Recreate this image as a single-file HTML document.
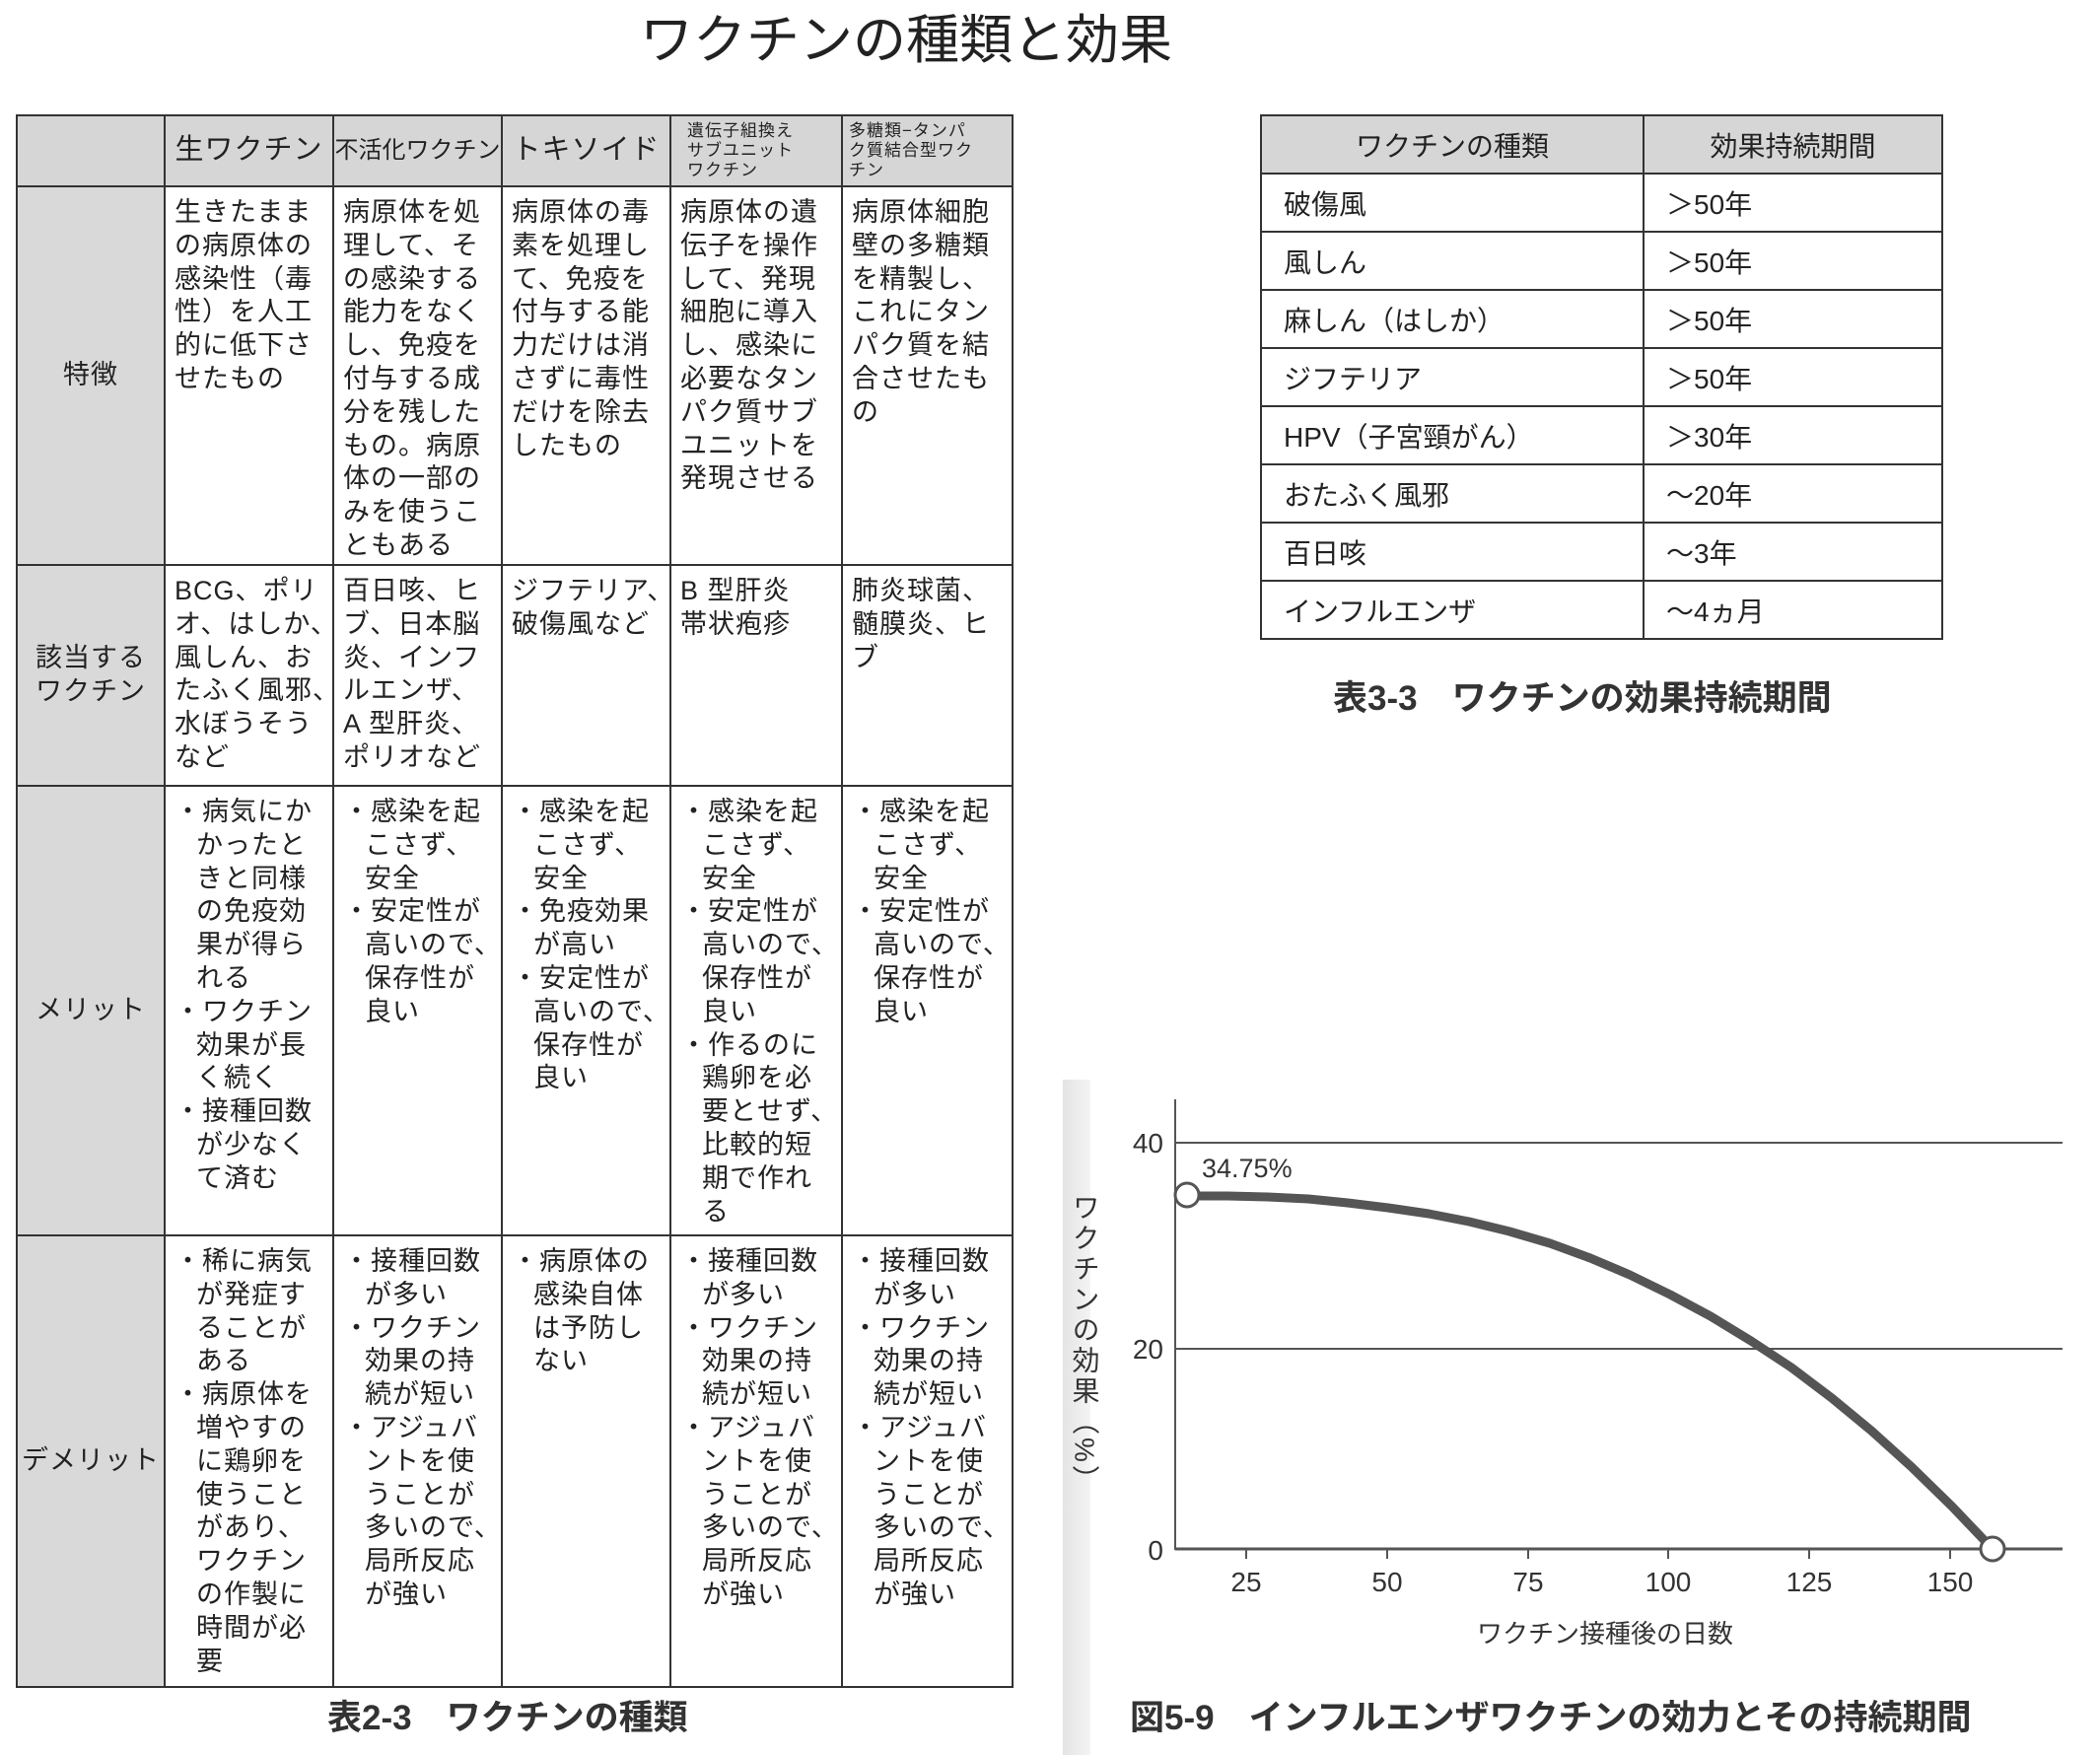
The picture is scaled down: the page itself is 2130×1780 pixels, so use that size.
<!DOCTYPE html>
<html><head><meta charset="utf-8">
<style>
body{margin:0;width:2130px;height:1780px;background:#fff;position:relative;overflow:hidden;font-family:"Liberation Sans","Noto Sans CJK JP",sans-serif;color:#222}
.t{position:absolute;white-space:nowrap}
table{border-collapse:collapse;position:absolute}
td{box-sizing:border-box}
#t1{left:16px;top:116px;table-layout:fixed;width:1010px}
#t1 td{border:2px solid #333;vertical-align:top;padding:9px 0 0 9px;font-size:27px;line-height:33.8px;letter-spacing:1px;white-space:nowrap;overflow:hidden}
#t1 td.h{background:#d6d6d6;vertical-align:middle;text-align:center;padding:0}
#t1 td.r{background:#d9d9d9;vertical-align:middle;text-align:center;padding:0 2px}
.i{padding-left:22px}
#t2{left:1278px;top:116px;table-layout:fixed;width:691px}
#t2 td{border:2px solid #333;height:59px;font-size:28px;padding:0 0 0 22px;white-space:nowrap}
#t2 tr.hd td{background:#d6d6d6;text-align:center;padding:0}
</style></head><body>
<div class="t" style="left:0;width:1838px;text-align:center;top:-4px;font-size:54px">ワクチンの種類と効果</div>

<table id="t1">
<colgroup><col style="width:150px"><col style="width:171px"><col style="width:171px"><col style="width:171px"><col style="width:174px"><col style="width:173px"></colgroup>
<tr style="height:72px"><td class="h"></td><td class="h" style="font-size:29px">生ワクチン</td><td class="h" style="font-size:24px;letter-spacing:0">不活化ワクチン</td><td class="h" style="font-size:29px">トキソイド</td>
<td class="h" style="font-size:17px;line-height:20px;text-align:left;padding-left:16px">遺伝子組換え<br>サブユニット<br>ワクチン</td>
<td class="h" style="font-size:17px;line-height:20px;text-align:left;padding-left:6px">多糖類−タンパ<br>ク質結合型ワク<br>チン</td></tr>
<tr style="height:384px"><td class="r">特徴</td>
<td>生きたまま<br>の病原体の<br>感染性（毒<br>性）を人工<br>的に低下さ<br>せたもの</td>
<td>病原体を処<br>理して、そ<br>の感染する<br>能力をなく<br>し、免疫を<br>付与する成<br>分を残した<br>もの。病原<br>体の一部の<br>みを使うこ<br>ともある</td>
<td>病原体の毒<br>素を処理し<br>て、免疫を<br>付与する能<br>力だけは消<br>さずに毒性<br>だけを除去<br>したもの</td>
<td>病原体の遺<br>伝子を操作<br>して、発現<br>細胞に導入<br>し、感染に<br>必要なタン<br>パク質サブ<br>ユニットを<br>発現させる</td>
<td>病原体細胞<br>壁の多糖類<br>を精製し、<br>これにタン<br>パク質を結<br>合させたも<br>の</td></tr>
<tr style="height:224px"><td class="r">該当する<br>ワクチン</td>
<td>BCG、ポリ<br>オ、はしか、<br>風しん、お<br>たふく風邪、<br>水ぼうそう<br>など</td>
<td>百日咳、ヒ<br>ブ、日本脳<br>炎、インフ<br>ルエンザ、<br>A 型肝炎、<br>ポリオなど</td>
<td>ジフテリア、<br>破傷風など</td>
<td>B 型肝炎<br>帯状疱疹</td>
<td>肺炎球菌、<br>髄膜炎、ヒ<br>ブ</td></tr>
<tr style="height:456px"><td class="r">メリット</td>
<td><div>・病気にか</div><div class="i">かったと</div><div class="i">きと同様</div><div class="i">の免疫効</div><div class="i">果が得ら</div><div class="i">れる</div><div>・ワクチン</div><div class="i">効果が長</div><div class="i">く続く</div><div>・接種回数</div><div class="i">が少なく</div><div class="i">て済む</div></td>
<td><div>・感染を起</div><div class="i">こさず、</div><div class="i">安全</div><div>・安定性が</div><div class="i">高いので、</div><div class="i">保存性が</div><div class="i">良い</div></td>
<td><div>・感染を起</div><div class="i">こさず、</div><div class="i">安全</div><div>・免疫効果</div><div class="i">が高い</div><div>・安定性が</div><div class="i">高いので、</div><div class="i">保存性が</div><div class="i">良い</div></td>
<td><div>・感染を起</div><div class="i">こさず、</div><div class="i">安全</div><div>・安定性が</div><div class="i">高いので、</div><div class="i">保存性が</div><div class="i">良い</div><div>・作るのに</div><div class="i">鶏卵を必</div><div class="i">要とせず、</div><div class="i">比較的短</div><div class="i">期で作れ</div><div class="i">る</div></td>
<td><div>・感染を起</div><div class="i">こさず、</div><div class="i">安全</div><div>・安定性が</div><div class="i">高いので、</div><div class="i">保存性が</div><div class="i">良い</div></td></tr>
<tr style="height:458px"><td class="r">デメリット</td>
<td><div>・稀に病気</div><div class="i">が発症す</div><div class="i">ることが</div><div class="i">ある</div><div>・病原体を</div><div class="i">増やすの</div><div class="i">に鶏卵を</div><div class="i">使うこと</div><div class="i">があり、</div><div class="i">ワクチン</div><div class="i">の作製に</div><div class="i">時間が必</div><div class="i">要</div></td>
<td><div>・接種回数</div><div class="i">が多い</div><div>・ワクチン</div><div class="i">効果の持</div><div class="i">続が短い</div><div>・アジュバ</div><div class="i">ントを使</div><div class="i">うことが</div><div class="i">多いので、</div><div class="i">局所反応</div><div class="i">が強い</div></td>
<td><div>・病原体の</div><div class="i">感染自体</div><div class="i">は予防し</div><div class="i">ない</div></td>
<td><div>・接種回数</div><div class="i">が多い</div><div>・ワクチン</div><div class="i">効果の持</div><div class="i">続が短い</div><div>・アジュバ</div><div class="i">ントを使</div><div class="i">うことが</div><div class="i">多いので、</div><div class="i">局所反応</div><div class="i">が強い</div></td>
<td><div>・接種回数</div><div class="i">が多い</div><div>・ワクチン</div><div class="i">効果の持</div><div class="i">続が短い</div><div>・アジュバ</div><div class="i">ントを使</div><div class="i">うことが</div><div class="i">多いので、</div><div class="i">局所反応</div><div class="i">が強い</div></td></tr>
</table>
<div class="t" style="left:332px;top:1714px;font-size:35px;font-weight:bold;color:#333">表2-3　ワクチンの種類</div>

<table id="t2">
<colgroup><col style="width:388px"><col style="width:303px"></colgroup>
<tr class="hd"><td>ワクチンの種類</td><td>効果持続期間</td></tr>
<tr><td>破傷風</td><td>＞50年</td></tr>
<tr><td>風しん</td><td>＞50年</td></tr>
<tr><td>麻しん（はしか）</td><td>＞50年</td></tr>
<tr><td>ジフテリア</td><td>＞50年</td></tr>
<tr><td>HPV（子宮頸がん）</td><td>＞30年</td></tr>
<tr><td>おたふく風邪</td><td>〜20年</td></tr>
<tr><td>百日咳</td><td>〜3年</td></tr>
<tr><td>インフルエンザ</td><td>〜4ヵ月</td></tr>
</table>
<div class="t" style="left:1352px;top:680px;font-size:35px;font-weight:bold;color:#333">表3-3　ワクチンの効果持続期間</div>

<div style="position:absolute;left:1078px;top:1095px;width:28px;height:685px;background:linear-gradient(90deg,#e4e4e4,#f4f4f4)"></div>
<svg style="position:absolute;left:0;top:0" width="2130" height="1780">
<g stroke="#555" stroke-width="2" fill="none">
<line x1="1192" y1="1115" x2="1192" y2="1572"/>
<line x1="1192" y1="1159" x2="2092" y2="1159"/>
<line x1="1192" y1="1368" x2="2092" y2="1368"/>
<line x1="1192" y1="1571" x2="2092" y2="1571" stroke-width="3"/>
<line x1="1264" y1="1571" x2="1264" y2="1581"/><line x1="1407" y1="1571" x2="1407" y2="1581"/><line x1="1550" y1="1571" x2="1550" y2="1581"/><line x1="1692" y1="1571" x2="1692" y2="1581"/><line x1="1835" y1="1571" x2="1835" y2="1581"/><line x1="1978" y1="1571" x2="1978" y2="1581"/>
</g>
<polyline fill="none" stroke="#555" stroke-width="9" stroke-linejoin="round" stroke-linecap="round" points="1204,1213 1245,1213 1286,1214 1327,1216 1367,1220 1408,1225 1449,1231 1490,1239 1531,1249 1572,1261 1613,1276 1653,1293 1694,1313 1735,1335 1776,1360 1817,1387 1858,1418 1898,1451 1939,1488 1980,1528 2021,1571"/>
<circle cx="1204" cy="1212" r="12" fill="#fff" stroke="#555" stroke-width="3"/>
<circle cx="2021" cy="1571" r="12" fill="#fff" stroke="#555" stroke-width="3"/>
<g font-family="Liberation Sans, sans-serif" font-size="28" fill="#333" text-anchor="end">
<text x="1180" y="1169">40</text><text x="1180" y="1378">20</text><text x="1180" y="1582">0</text></g>
<g font-family="Liberation Sans, sans-serif" font-size="28" fill="#333" text-anchor="middle">
<text x="1264" y="1614">25</text><text x="1407" y="1614">50</text><text x="1550" y="1614">75</text><text x="1692" y="1614">100</text><text x="1835" y="1614">125</text><text x="1978" y="1614">150</text></g>
<text x="1219" y="1194" font-family="Liberation Sans, sans-serif" font-size="27" fill="#333">34.75%</text>
<text x="1628" y="1666" font-family="Liberation Sans, Noto Sans CJK JP, sans-serif" font-size="26" fill="#333" text-anchor="middle">ワクチン接種後の日数</text>
<text x="1100" y="1210" font-family="Liberation Sans, Noto Sans CJK JP, sans-serif" font-size="28" letter-spacing="3" fill="#333" style="writing-mode:vertical-rl">ワクチンの効果（%）</text>
</svg>
<div class="t" style="left:1146px;top:1714px;font-size:35px;font-weight:bold;color:#333">図5-9　インフルエンザワクチンの効力とその持続期間</div>
</body></html>
